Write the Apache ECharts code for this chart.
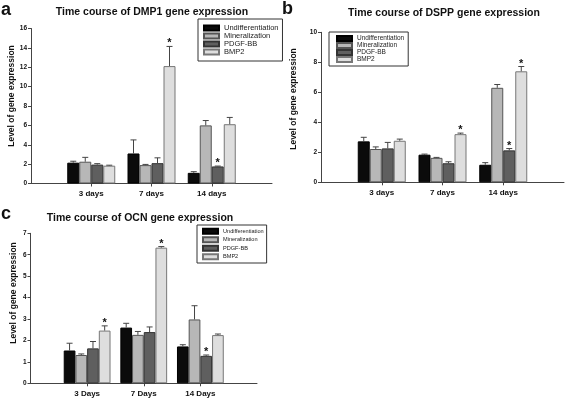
<!DOCTYPE html>
<html>
<head>
<meta charset="utf-8">
<script src="https://cdn.jsdelivr.net/npm/echarts@6/dist/echarts.min.js"></script>
<style>html,body{margin:0;padding:0;background:#fff;}#c{width:567px;height:400px;}</style>
</head>
<body>
<div id="c"></div>
<script>
// ---- data ----
const groups = ['Undifferentiation', 'Mineralization', 'PDGF-BB', 'BMP2'];
const daysAB = ['3 days', '7 days', '14 days'];
const daysC = ['3 Days', '7 Days', '14 Days'];

// rows: Undifferentiation, Mineralization, PDGF-BB, BMP2 ; columns: 3, 7, 14 days
const dmp1Mean  = [[2.15, 3.10, 1.10], [2.25, 1.90, 6.00], [1.95, 2.10, 1.76], [1.84, 12.12, 6.12]];
const dmp1Upper = [[2.30, 4.50, 1.22], [2.70, 1.97, 6.50], [2.05, 2.65, 1.80], [1.89, 14.15, 6.82]];
const dmp1Star  = [[0, 0, 0], [0, 0, 0], [0, 0, 1], [0, 1, 0]];

const dsppMean  = [[2.73, 1.84, 1.17], [2.22, 1.63, 6.30], [2.26, 1.27, 2.13], [2.77, 3.21, 7.40]];
const dsppUpper = [[3.00, 1.88, 1.31], [2.36, 1.66, 6.52], [2.66, 1.37, 2.25], [2.88, 3.28, 7.72]];
const dsppStar  = [[0, 0, 0], [0, 0, 0], [0, 0, 1], [0, 1, 1]];

const ocnMean  = [[1.53, 2.60, 1.72], [1.32, 2.26, 2.98], [1.63, 2.39, 1.28], [2.46, 6.33, 2.25]];
const ocnUpper = [[1.87, 2.80, 1.80], [1.37, 2.42, 3.62], [1.95, 2.63, 1.32], [2.68, 6.38, 2.30]];
const ocnStar  = [[0, 0, 0], [0, 0, 0], [0, 0, 1], [1, 1, 0]];

const titles = ['Time course of DMP1 gene expression', 'Time course of DSPP gene expression', 'Time course of OCN gene expression'];
const panelLetters = ['a', 'b', 'c'];
const yName = 'Level of gene expression';
const yMax = [16, 10, 7];
const yStep = [2, 2, 1];

// ---- styling / layout ----
const FONT = 'Liberation Sans';
const fills = ['#0b0b0b', '#b7b7b7', '#5f5f5f', '#dedede'];
const borders = ['#000', '#555', '#333', '#777'];
const panels = [
  {grid: {left: 31, top: 28.5, width: 241, height: 155}, barW: 12, cats: daysAB, mean: dmp1Mean, upper: dmp1Upper, star: dmp1Star,
   legend: {left: 198, top: 19, fs: 7.5, lh: 8, pad: [5, 4, 5, 5]}, title: [152, 12], letter: [1, 10], yname: [12, 96]},
  {grid: {left: 321, top: 32.3, width: 245, height: 150}, barW: 12, cats: daysAB, mean: dsppMean, upper: dsppUpper, star: dsppStar,
   legend: {left: 329, top: 32, fs: 6.5, lh: 6.6, pad: [3, 4, 3, 7]}, title: [444, 13], letter: [282, 9.5], yname: [293.5, 99]},
  {grid: {left: 30.5, top: 233.3, width: 226.5, height: 150}, barW: 11.7, cats: daysC, mean: ocnMean, upper: ocnUpper, star: ocnStar,
   legend: {left: 197, top: 225, fs: 5.6, lh: 8.5, pad: [2, 3, 2, 5]}, title: [140, 218], letter: [1, 214], yname: [13.5, 293]}
];

const option = {
  animation: false,
  backgroundColor: '#fff',
  grid: [], xAxis: [], yAxis: [], series: [], legend: [], graphic: []
};

panels.forEach((p, i) => {
  option.grid.push(Object.assign({containLabel: false}, p.grid));
  option.xAxis.push({
    gridIndex: i, type: 'category', boundaryGap: false,
    data: [''].concat(p.cats, ['']),
    axisLine: {lineStyle: {color: '#444', width: 1}},
    axisTick: {show: true, inside: false, length: 3, interval: (idx) => idx > 0 && idx < p.cats.length + 1, lineStyle: {color: '#444'}},
    axisLabel: {interval: 0, fontSize: 8, fontWeight: 'bold', fontFamily: FONT, color: '#111', margin: 6},
    splitLine: {show: false}
  });
  option.yAxis.push({
    gridIndex: i, type: 'value', min: 0, max: yMax[i], interval: yStep[i],
    axisLine: {show: true, lineStyle: {color: '#444', width: 1}},
    axisTick: {show: true, inside: false, length: 3, lineStyle: {color: '#444'}},
    axisLabel: {fontSize: 6.5, fontWeight: 'bold', fontFamily: FONT, color: '#111', margin: 4},
    splitLine: {show: false}
  });
  groups.forEach((g, k) => {
    option.series.push({
      name: g, type: 'bar', xAxisIndex: i, yAxisIndex: i,
      barWidth: p.barW, barGap: '0%',
      data: [null].concat(p.mean[k], [null]),
      itemStyle: {color: fills[k], borderColor: borders[k], borderWidth: 1},
      emphasis: {disabled: true}
    });
  });
  const errData = [];
  groups.forEach((g, k) => {
    p.cats.forEach((c, j) => {
      errData.push([j + 1, p.mean[k][j], p.upper[k][j], k, p.star[k][j]]);
    });
  });
  const bw = p.barW;
  option.series.push({
    type: 'custom', xAxisIndex: i, yAxisIndex: i, z: 5,
    encode: {x: 0, y: 2},
    data: errData,
    renderItem: function (params, api) {
      const x = api.value(0), v = api.value(1), u = api.value(2), k = api.value(3), s = api.value(4);
      const p0 = api.coord([x, v]);
      const p1 = api.coord([x, u]);
      const cx = p0[0] + (k - 1.5) * bw;
      const children = [
        {type: 'line', shape: {x1: cx, y1: p0[1], x2: cx, y2: p1[1]}, style: {stroke: '#444', lineWidth: 1}},
        {type: 'line', shape: {x1: cx - 3, y1: p1[1], x2: cx + 3, y2: p1[1]}, style: {stroke: '#444', lineWidth: 1}}
      ];
      if (s) {
        children.push({type: 'text', x: cx, y: p1[1] + 2.5,
          style: {text: '*', fontSize: 11, fontWeight: 'bold', fontFamily: FONT, fill: '#111', align: 'center', verticalAlign: 'bottom'}});
      }
      return {type: 'group', children: children};
    }
  });
  option.legend.push({
    data: groups, orient: 'vertical', left: p.legend.left, top: p.legend.top,
    itemWidth: 15, itemHeight: 5, itemGap: 0, padding: p.legend.pad,
    borderColor: '#333', borderWidth: 1, backgroundColor: '#fff',
    icon: 'rect', selectedMode: false,
    textStyle: {fontSize: p.legend.fs, lineHeight: p.legend.lh, fontFamily: FONT, color: '#222'}
  });
  option.graphic.push(
    {type: 'text', x: p.title[0], y: p.title[1], silent: true,
     style: {text: titles[i], fontSize: 10.5, fontWeight: 'bold', fontFamily: FONT, fill: '#111', align: 'center', verticalAlign: 'middle'}},
    {type: 'text', x: p.letter[0], y: p.letter[1], silent: true,
     style: {text: panelLetters[i], fontSize: 18, fontWeight: 'bold', fontFamily: FONT, fill: '#111', align: 'left', verticalAlign: 'middle'}},
    {type: 'text', x: p.yname[0], y: p.yname[1], rotation: Math.PI / 2, silent: true,
     style: {text: yName, fontSize: 8.5, fontWeight: 'bold', fontFamily: FONT, fill: '#111', align: 'center', verticalAlign: 'middle'}}
  );
});

const chart = echarts.init(document.getElementById('c'), null, {renderer: 'canvas'});
chart.setOption(option);
</script>
</body>
</html>
